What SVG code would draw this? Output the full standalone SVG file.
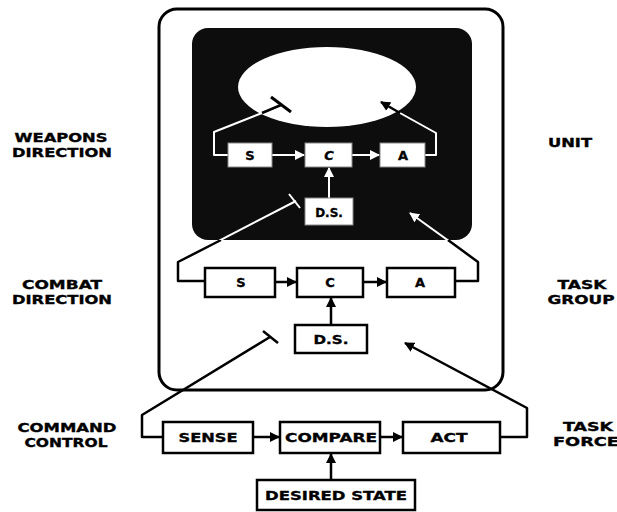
<svg xmlns="http://www.w3.org/2000/svg" width="617" height="512" viewBox="0 0 617 512">
<style>
  text { font-family: "DejaVu Sans", "Liberation Sans", sans-serif; font-weight: bold; font-size: 12px; fill: #000; stroke: #000; stroke-width: 0.35; }
  .lbl { text-anchor: middle; }
  .bl { font-size: 13px; }
  .box { fill: #fff; stroke: #000; stroke-width: 2.5; }
  .wbox { fill: #fff; stroke: #888; stroke-width: 1; }
  .blk { fill: none; stroke: #000; stroke-width: 2.5; stroke-linejoin: round; }
  .wht { fill: none; stroke: #fff; stroke-width: 2; stroke-linejoin: round; }
</style>
<defs>
  <marker id="ab" viewBox="0 0 10 10" refX="9" refY="5" markerWidth="4" markerHeight="4" orient="auto" markerUnits="strokeWidth">
    <path d="M0,0 L10,5 L0,10 z" fill="#000"/>
  </marker>
  <marker id="aw" viewBox="0 0 10 10" refX="9" refY="5" markerWidth="5" markerHeight="5" orient="auto" markerUnits="strokeWidth">
    <path d="M0,0 L10,5 L0,10 z" fill="#fff"/>
  </marker>
  <clipPath id="darkclip"><rect x="192" y="28" width="280" height="212" rx="16"/></clipPath>
</defs>

<g id="frame">
  <rect x="159" y="9" width="344" height="381" rx="18" fill="none" stroke="#000" stroke-width="3"/>
  <rect x="192" y="28" width="280" height="212" rx="16" fill="#0d0d0d"/>
  <ellipse cx="327" cy="87" rx="89" ry="40" fill="#fff"/>
</g>

<g id="labels">
  <text class="lbl" x="61" y="142" textLength="93" lengthAdjust="spacingAndGlyphs">WEAPONS</text>
  <text class="lbl" x="62" y="157" textLength="100" lengthAdjust="spacingAndGlyphs">DIRECTION</text>
  <text class="lbl" x="62" y="289" textLength="80" lengthAdjust="spacingAndGlyphs">COMBAT</text>
  <text class="lbl" x="62" y="304" textLength="100" lengthAdjust="spacingAndGlyphs">DIRECTION</text>
  <text class="lbl" x="67" y="432" textLength="99" lengthAdjust="spacingAndGlyphs">COMMAND</text>
  <text class="lbl" x="66" y="447" textLength="83" lengthAdjust="spacingAndGlyphs">CONTROL</text>
  <text class="lbl" x="570" y="147" textLength="44" lengthAdjust="spacingAndGlyphs">UNIT</text>
  <text class="lbl" x="582" y="289" textLength="49" lengthAdjust="spacingAndGlyphs">TASK</text>
  <text class="lbl" x="581" y="304" textLength="67" lengthAdjust="spacingAndGlyphs">GROUP</text>
  <text class="lbl" x="588" y="431" textLength="50" lengthAdjust="spacingAndGlyphs">TASK</text>
  <text x="553" y="446" textLength="66" lengthAdjust="spacingAndGlyphs">FORCE</text>
</g>

<g id="connectors">
  <!-- bottom level -->
  <line class="blk" x1="253" y1="437" x2="279" y2="437" marker-end="url(#ab)"/>
  <line class="blk" x1="380" y1="437" x2="402" y2="437" marker-end="url(#ab)"/>
  <line class="blk" x1="331" y1="480" x2="331" y2="454" marker-end="url(#ab)"/>
  <polyline class="blk" points="163,437 142,437 142,415 270,337"/>
  <line class="blk" x1="263" y1="331" x2="278" y2="343"/>
  <polyline class="blk" points="500,437 527,437 527,408 405,343" marker-end="url(#ab)"/>
  <!-- middle level -->
  <line class="blk" x1="275" y1="282" x2="296" y2="282" marker-end="url(#ab)"/>
  <line class="blk" x1="363" y1="282" x2="386" y2="282" marker-end="url(#ab)"/>
  <line class="blk" x1="331" y1="325" x2="331" y2="298" marker-end="url(#ab)"/>
  <polyline class="blk" points="205,281 178,281 178,262 221,240"/>
  <polyline class="blk" points="455,281 478,281 478,262 448,240"/>
  <g clip-path="url(#darkclip)">
    <polyline class="wht" points="178,262 296,201"/>
    <line class="wht" x1="289" y1="194" x2="300" y2="208" stroke-width="2.5"/>
    <polyline class="wht" points="478,262 410,213" marker-end="url(#aw)"/>
    <!-- top level -->
    <line class="wht" x1="272" y1="155" x2="304" y2="155" marker-end="url(#aw)"/>
    <line class="wht" x1="352" y1="155" x2="379" y2="155" marker-end="url(#aw)"/>
    <line class="wht" x1="329" y1="198" x2="329" y2="168" marker-end="url(#aw)" stroke-width="3"/>
    <polyline class="wht" points="228,155 214,155 214,132 262,113"/>
    <polyline class="wht" points="425,155 436,155 436,133 400,113"/>
  </g>
  <!-- ends over the white ellipse -->
  <line x1="262" y1="113" x2="281" y2="105" stroke="#000" stroke-width="2.5"/>
  <line x1="271" y1="97" x2="291" y2="112" stroke="#000" stroke-width="3"/>
  <line x1="400" y1="113" x2="381" y2="102" stroke="#000" stroke-width="2.5" marker-end="url(#ab)"/>
</g>

<g id="top-S"><rect class="wbox" x="228" y="143" width="44" height="24"/><text class="lbl bl" x="250" y="160">S</text></g>
<g id="top-C"><rect class="wbox" x="305" y="143" width="47" height="24"/><text class="lbl bl" x="329" y="160" font-style="italic">C</text></g>
<g id="top-A"><rect class="wbox" x="380" y="143" width="45" height="24"/><text class="lbl bl" x="403" y="160">A</text></g>
<g id="top-DS"><rect class="wbox" x="305" y="198" width="48" height="27"/><text class="lbl" x="329" y="217" font-size="14">D.S.</text></g>

<g id="mid-S"><rect class="box" x="205" y="268" width="70" height="29"/><text class="lbl bl" x="241" y="287">S</text></g>
<g id="mid-C"><rect class="box" x="297" y="268" width="66" height="29"/><text class="lbl bl" x="330" y="287">C</text></g>
<g id="mid-A"><rect class="box" x="387" y="268" width="68" height="29"/><text class="lbl bl" x="420" y="287">A</text></g>
<g id="mid-DS"><rect class="box" x="295" y="325" width="72" height="28"/><text class="lbl bl" x="331" y="344" textLength="35" lengthAdjust="spacingAndGlyphs">D.S.</text></g>

<g id="sense"><rect class="box" x="163" y="422" width="90" height="31"/><text class="lbl bl" x="208" y="442" textLength="59" lengthAdjust="spacingAndGlyphs">SENSE</text></g>
<g id="compare"><rect class="box" x="280" y="422" width="100" height="31"/><text class="lbl bl" x="331" y="442" textLength="92" lengthAdjust="spacingAndGlyphs">COMPARE</text></g>
<g id="act"><rect class="box" x="403" y="422" width="97" height="31"/><text class="lbl bl" x="449" y="442" textLength="37" lengthAdjust="spacingAndGlyphs">ACT</text></g>
<g id="desired"><rect class="box" x="257" y="480" width="158" height="30"/><text class="lbl bl" x="336" y="500" textLength="142" lengthAdjust="spacingAndGlyphs">DESIRED STATE</text></g>
</svg>
